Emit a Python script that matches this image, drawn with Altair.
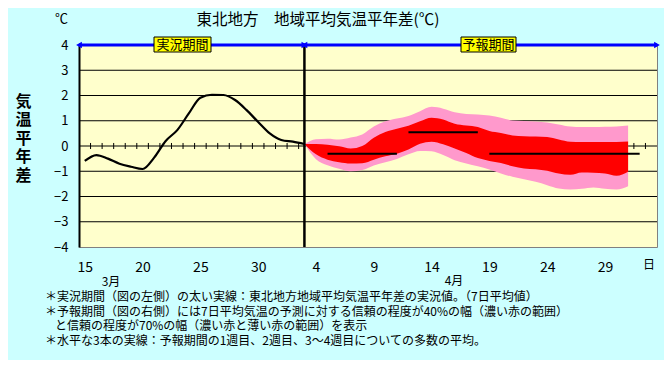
import altair as alt
import pandas as pd

FONT = "Noto Sans CJK JP"

# ---------------- text ----------------
title_text = ["東北地方　地域平均気温平年差(℃)"]
unit_text = ["℃"]
y_title_chars = ["気", "温", "平", "年", "差"]
period_labels = ["実況期間", "予報期間"]
month_labels = ["3月", "4月"]
day_unit = ["日"]
notes = [
    "＊実況期間（図の左側）の太い実線：東北地方地域平均気温平年差の実況値。（7日平均値）",
    "＊予報期間（図の右側）には7日平均気温の予測に対する信頼の程度が40%の幅（濃い赤の範囲）",
    "と信頼の程度が70%の幅（濃い赤と薄い赤の範囲）を表示",
    "＊水平な3本の実線：予報期間の1週目、2週目、3～4週目についての多数の平均。",
]

# ---------------- data ----------------
# day index: 0 = 3/15, 16 = 3/31, 17 = 4/1, ... 49 = 5/3
n_days = 50
tick_days = [0, 5, 10, 15, 20, 25, 30, 35, 40, 45]
y_ticks = [-4, -3, -2, -1, 0, 1, 2, 3, 4]
grid_vals = [-3, -2, -1, 0, 1, 2, 3]

# observed 7-day mean anomaly, 3/15 .. 4/3
obs_values = [-0.59, -0.36, -0.50, -0.70, -0.82, -0.91, -0.46, 0.20, 0.63, 1.29,
              1.91, 2.03, 2.02, 1.82, 1.42, 0.95, 0.50, 0.24, 0.17, 0.08]

# forecast bands, 4/3 .. 5/1
fc_u70 = [0.08, 0.27, 0.29, 0.26, 0.34, 0.46, 0.77, 0.98, 1.09, 1.19, 1.38, 1.55, 1.48, 1.34, 1.27,
          1.25, 1.21, 1.12, 1.01, 0.99, 0.97, 0.93, 0.85, 0.77, 0.75, 0.75, 0.76, 0.77, 0.81]
fc_u40 = [0.08, 0.08, 0.05, -0.01, -0.10, 0.00, 0.33, 0.55, 0.68, 0.80, 0.98, 1.12, 1.05, 0.88, 0.81,
          0.75, 0.59, 0.51, 0.42, 0.39, 0.38, 0.36, 0.26, 0.17, 0.16, 0.16, 0.16, 0.16, 0.18]
fc_l40 = [0.08, -0.33, -0.54, -0.64, -0.69, -0.68, -0.54, -0.41, -0.31, -0.14, 0.09, 0.17, 0.07, -0.10, -0.28,
          -0.48, -0.59, -0.67, -0.80, -0.89, -0.92, -0.98, -1.09, -1.14, -1.05, -1.06, -1.09, -1.18, -1.02]
fc_l70 = [0.08, -0.52, -0.76, -0.90, -1.00, -0.95, -0.77, -0.64, -0.51, -0.33, -0.20, -0.21, -0.36, -0.56, -0.69,
          -0.80, -0.93, -1.09, -1.22, -1.32, -1.42, -1.55, -1.68, -1.72, -1.69, -1.64, -1.69, -1.72, -1.59]

# weekly means (first day index, last day index, value)
week_first = [21, 28, 35]
week_last = [27, 34, 48]
week_mean = [-0.31, 0.54, -0.31]

# ---------------- frames ----------------
split_day = len(obs_values) - 1
obs_df = pd.DataFrame({"x": list(range(len(obs_values))), "v": obs_values})
fc_df = pd.DataFrame({
    "x": [split_day + i for i in range(len(fc_u70))],
    "u70": fc_u70, "u40": fc_u40, "l40": fc_l40, "l70": fc_l70,
})
week_df = pd.DataFrame({"x1": week_first, "x2": week_last, "v": week_mean})
grid_df = pd.DataFrame({"g": grid_vals})
bound_df = pd.DataFrame({"b": [k + 0.5 for k in range(n_days - 1)], "lo": -0.12, "hi": 0.12})
x_lo, x_hi = -0.5, n_days - 0.5
split_df = pd.DataFrame({"x": [split_day], "lo": [y_ticks[0]], "hi": [y_ticks[-1]]})
seg_df = pd.DataFrame({"a": [x_lo, split_day], "b": [split_day, x_hi], "y": [y_ticks[-1]] * 2})
left_tips = pd.DataFrame({"x": [x_lo, split_day], "y": [y_ticks[-1]] * 2})
right_tips = pd.DataFrame({"x": [split_day, x_hi], "y": [y_ticks[-1]] * 2})
one = pd.DataFrame({"d": [0]})

xs = alt.Scale(domain=[x_lo, x_hi], nice=False, zero=False)
ys = alt.Scale(domain=[-4, 4], nice=False, zero=False)

x_axis = alt.Axis(values=tick_days,
                  labelExpr="datum.value <= 16 ? datum.value + 15 : datum.value - 16",
                  ticks=False, domain=False, grid=False, labelPadding=13,
                  labelFontSize=14, labelColor="black", labelFont=FONT,
                  labelBaseline="top", title=None)
y_axis = alt.Axis(values=y_ticks, ticks=False, domain=True, domainColor="black",
                  domainWidth=2, grid=False, labelPadding=11, labelFontSize=13,
                  labelColor="black", labelFont=FONT,
                  title=y_title_chars, titleAngle=0, titleX=-56, titleY=56,
                  titleAlign="center", titleBaseline="middle", titleFontSize=16,
                  titleFontWeight="bold", titleLineHeight=18.5, titleFont=FONT,
                  titleColor="black")


def X(f):
    return alt.X(f, scale=xs, axis=x_axis)


def Y(f):
    return alt.Y(f, scale=ys, axis=y_axis)


grid = alt.Chart(grid_df).mark_rule(color="black", strokeWidth=1).encode(y=Y("g:Q"))

ticks = alt.Chart(bound_df).mark_rule(color="black", strokeWidth=1).encode(
    x=X("b:Q"), y=Y("lo:Q"), y2="hi:Q")

pink = alt.Chart(fc_df).mark_area(color="#FF99CC", opacity=1, interpolate="monotone").encode(
    x=X("x:Q"), y=Y("l70:Q"), y2="u70:Q")

red = alt.Chart(fc_df).mark_area(color="#FF0000", opacity=1, interpolate="monotone").encode(
    x=X("x:Q"), y=Y("l40:Q"), y2="u40:Q")

obs = alt.Chart(obs_df).mark_line(color="black", strokeWidth=2.2, interpolate="monotone").encode(
    x=X("x:Q"), y=Y("v:Q"))

weeks = alt.Chart(week_df).mark_rule(color="black", strokeWidth=2).encode(
    x=X("x1:Q"), x2="x2:Q", y=Y("v:Q"))

split = alt.Chart(split_df).mark_rule(color="black", strokeWidth=2.5).encode(
    x=X("x:Q"), y=Y("lo:Q"), y2="hi:Q")

blue = alt.Chart(seg_df).mark_rule(color="#0000FF", strokeWidth=3).encode(
    x=X("a:Q"), x2="b:Q", y=Y("y:Q"))

ltip = alt.Chart(left_tips).mark_point(shape="triangle-left", filled=True, color="#0000FF",
                                       size=45, opacity=1, dx=3).encode(x=X("x:Q"), y=Y("y:Q"))
rtip = alt.Chart(right_tips).mark_point(shape="triangle-right", filled=True, color="#0000FF",
                                        size=45, opacity=1, dx=-3).encode(x=X("x:Q"), y=Y("y:Q"))

lab1 = pd.DataFrame({"t": [period_labels[0]]})
lab2 = pd.DataFrame({"t": [period_labels[1]]})
box1 = alt.Chart(lab1).mark_rect(fill="#FFFF00", stroke="black", strokeWidth=1).encode(
    x=alt.value(75), x2=alt.value(132), y=alt.value(-8), y2=alt.value(7))
box2 = alt.Chart(lab2).mark_rect(fill="#FFFF00", stroke="black", strokeWidth=1).encode(
    x=alt.value(382), x2=alt.value(437), y=alt.value(-8), y2=alt.value(7))
txt1 = alt.Chart(lab1).mark_text(font=FONT, fontSize=13, color="black", baseline="middle").encode(
    text="t:N", x=alt.value(103.5), y=alt.value(0))
txt2 = alt.Chart(lab2).mark_text(font=FONT, fontSize=13, color="black", baseline="middle").encode(
    text="t:N", x=alt.value(409.5), y=alt.value(0))

title = alt.Chart(pd.DataFrame({"t": title_text})).mark_text(
    font=FONT, fontSize=15.5, color="black", baseline="middle").encode(
    text="t:N", x=alt.value(239), y=alt.value(-25))
unit = alt.Chart(pd.DataFrame({"t": unit_text})).mark_text(
    font=FONT, fontSize=13, color="black", baseline="middle", align="right").encode(
    text="t:N", x=alt.value(-11), y=alt.value(-26))
m3 = alt.Chart(pd.DataFrame({"t": [month_labels[0]]})).mark_text(
    font=FONT, fontSize=12, color="black", baseline="middle").encode(
    text="t:N", x=alt.value(32), y=alt.value(237))
m4 = alt.Chart(pd.DataFrame({"t": [month_labels[1]]})).mark_text(
    font=FONT, fontSize=12, color="black", baseline="middle").encode(
    text="t:N", x=alt.value(375), y=alt.value(236))
dayu = alt.Chart(pd.DataFrame({"t": day_unit})).mark_text(
    font=FONT, fontSize=12, color="black", baseline="middle").encode(
    text="t:N", x=alt.value(570), y=alt.value(220))

note_a = alt.Chart(one).mark_text(
    font=FONT, fontSize=12, color="black", baseline="top", align="left",
    lineHeight=14.5, text=notes[:2]).encode(x=alt.value(-34), y=alt.value(247))
note_b = alt.Chart(one).mark_text(
    font=FONT, fontSize=12, color="black", baseline="top", align="left",
    text=notes[2]).encode(x=alt.value(-24), y=alt.value(276))
note_c = alt.Chart(one).mark_text(
    font=FONT, fontSize=12, color="black", baseline="top", align="left",
    text=notes[3]).encode(x=alt.value(-34), y=alt.value(290.5))

chart = alt.layer(
    grid, ticks, pink, red, obs, weeks, split, blue, ltip, rtip,
    box1, box2, txt1, txt2, title, unit, m3, m4, dayu, note_a, note_b, note_c,
).properties(
    width=578, height=202,
    background="#CCFFFF",
    padding={"left": 71, "top": 37, "right": 7, "bottom": 113},
    autosize=alt.AutoSizeParams(type="none"),
).configure_view(
    fill="#FFFFCC", stroke="#808080", strokeWidth=1
)

chart.save("out.html", embed_options={"renderer": "svg", "actions": False})
